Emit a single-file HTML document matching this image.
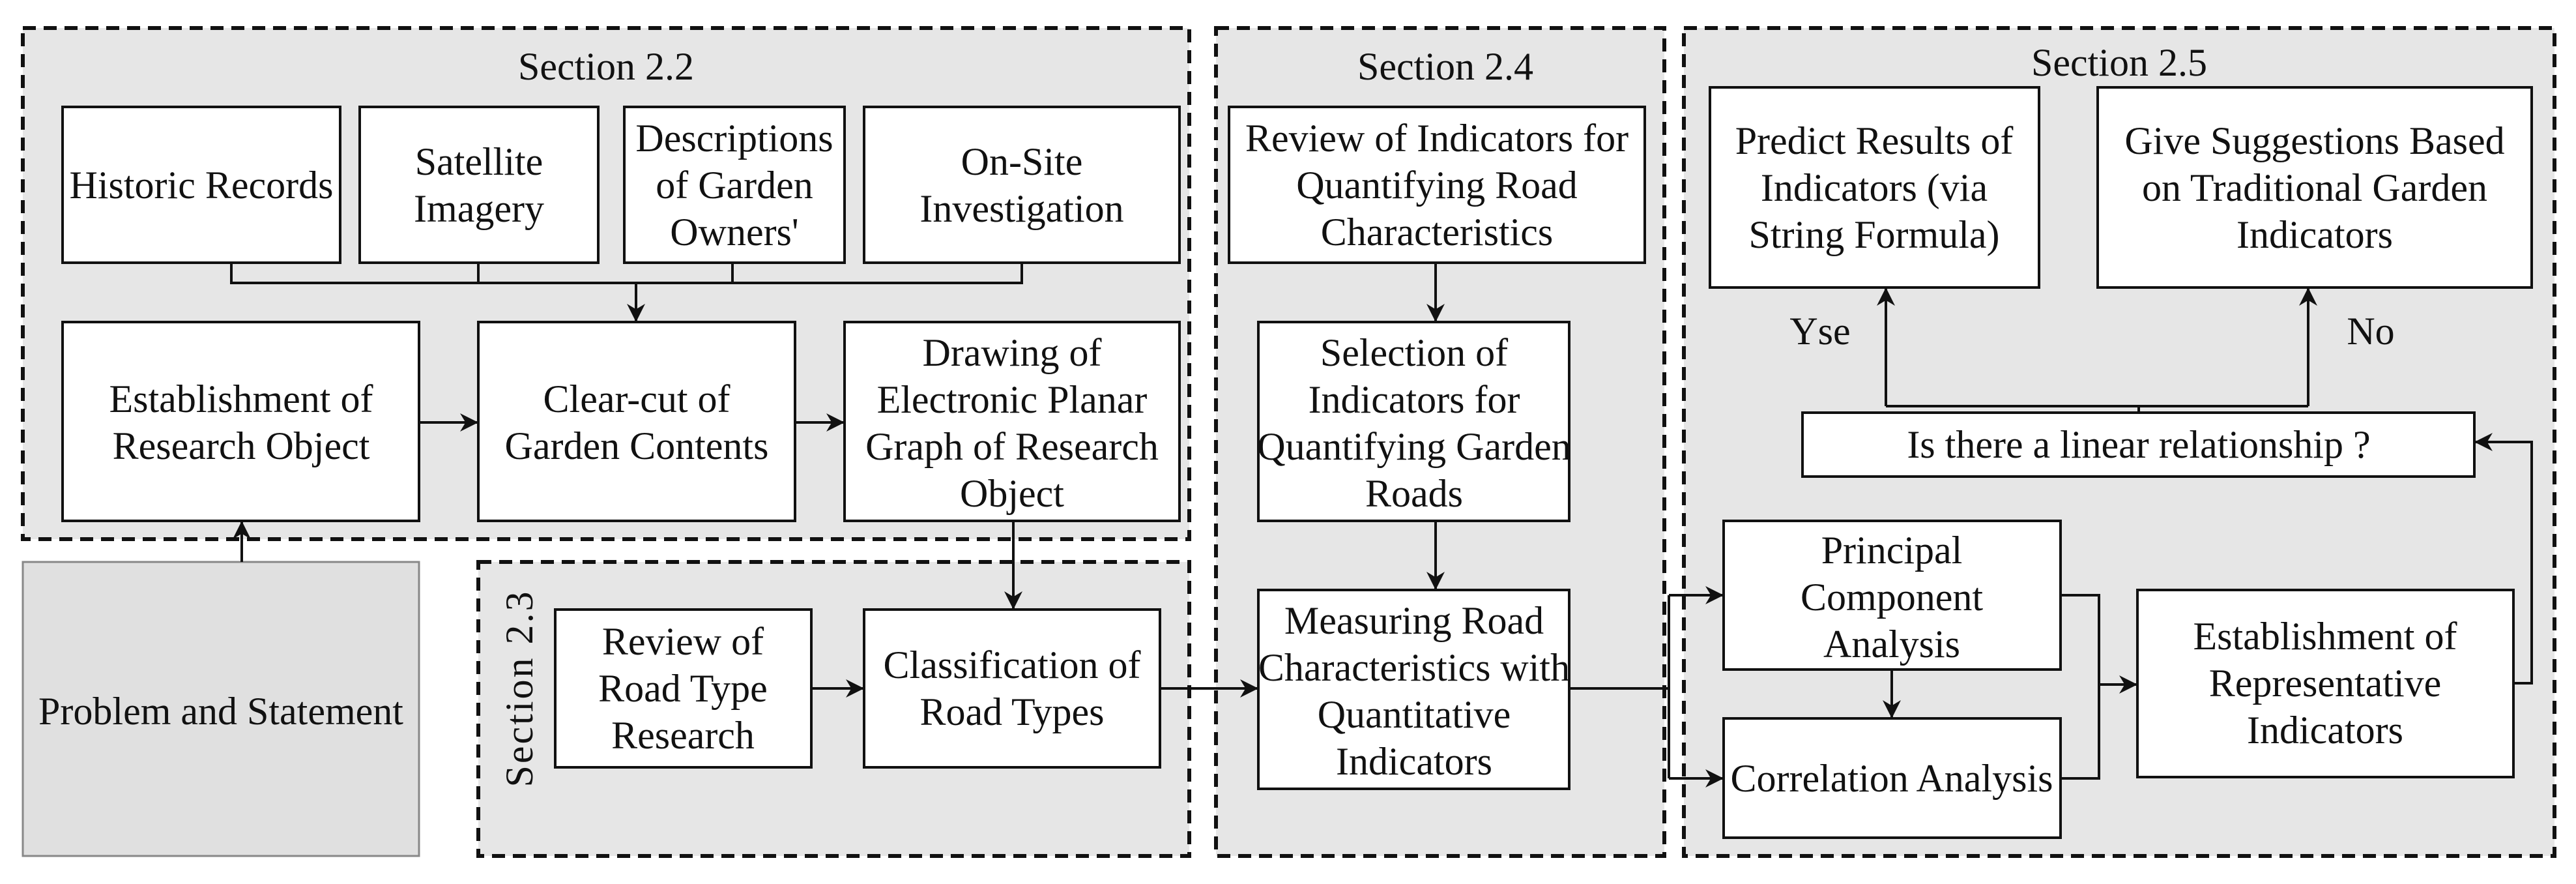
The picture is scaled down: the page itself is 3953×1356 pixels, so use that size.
<!DOCTYPE html>
<html><head><meta charset="utf-8"><style>
html,body{margin:0;padding:0;background:#fff}
svg{display:block}
text{font-family:"Liberation Serif","DejaVu Serif",serif;font-size:60px;fill:#111}
</style></head><body>
<svg width="3953" height="1356" viewBox="0 0 3953 1356" xmlns="http://www.w3.org/2000/svg">
<defs>
<marker id="b" viewBox="0 0 10 10" refX="10" refY="5" markerWidth="28" markerHeight="28" markerUnits="userSpaceOnUse" orient="auto"><path d="M0,0 L10,5 L0,10 L3,5 z" fill="#111"/></marker>
</defs>
<g fill="#e6e6e6" stroke="#111" stroke-width="6" stroke-dasharray="20 12">
<rect x="35" y="43" width="1790" height="784"/>
<rect x="734" y="862" width="1091" height="451"/>
<rect x="1866" y="43" width="688" height="1270"/>
<rect x="2584" y="43" width="1336" height="1270"/>
</g>
<rect x="35" y="862" width="608" height="451" fill="#e0e0e0" stroke="#888" stroke-width="3"/>
<g fill="#fff" stroke="#111" stroke-width="4">
<rect x="96" y="164" width="426" height="239"/>
<rect x="552" y="164" width="366" height="239"/>
<rect x="958" y="164" width="338" height="239"/>
<rect x="1326" y="164" width="484" height="239"/>
<rect x="96" y="494" width="547" height="305"/>
<rect x="734" y="494" width="486" height="305"/>
<rect x="1296" y="494" width="514" height="305"/>
<rect x="852" y="935" width="393" height="242"/>
<rect x="1326" y="935" width="454" height="242"/>
<rect x="1886" y="164" width="638" height="239"/>
<rect x="1931" y="494" width="477" height="305"/>
<rect x="1931" y="905" width="477" height="305"/>
<rect x="2624" y="134" width="505" height="307"/>
<rect x="3219" y="134" width="666" height="307"/>
<rect x="2766" y="633" width="1031" height="98"/>
<rect x="2645" y="799" width="517" height="228"/>
<rect x="2645" y="1102" width="517" height="183"/>
<rect x="3280" y="905" width="577" height="287"/>
</g>
<g fill="none" stroke="#111" stroke-width="4">
<path d="M355,403 V434 H1568 V403 M734,403 V434 M1124,403 V434"/>
<path d="M976,434 V494" marker-end="url(#b)"/>
<path d="M643,648 H734" marker-end="url(#b)"/>
<path d="M1220,648 H1296" marker-end="url(#b)"/>
<path d="M371,862 V799" marker-end="url(#b)"/>
<path d="M1555,799 V935" marker-end="url(#b)"/>
<path d="M1245,1056 H1326" marker-end="url(#b)"/>
<path d="M1780,1056 H1931" marker-end="url(#b)"/>
<path d="M2203,403 V494" marker-end="url(#b)"/>
<path d="M2203,799 V905" marker-end="url(#b)"/>
<path d="M2408,1056 H2561 M2561,913 V1194"/>
<path d="M2561,913 H2645" marker-end="url(#b)"/>
<path d="M2561,1194 H2645" marker-end="url(#b)"/>
<path d="M2903,1027 V1102" marker-end="url(#b)"/>
<path d="M3162,913 H3221 V1194 H3162"/>
<path d="M3221,1050 H3280" marker-end="url(#b)"/>
<path d="M3857,1048 H3885 V678 H3797" marker-end="url(#b)"/>
<path d="M3282,633 V623 M2894,623 H3542"/>
<path d="M2894,623 V441" marker-end="url(#b)"/>
<path d="M3542,623 V441" marker-end="url(#b)"/>
</g>
<g text-anchor="middle">
<text x="930" y="122">Section 2.2</text>
<text x="2218" y="122">Section 2.4</text>
<text x="3252" y="116">Section 2.5</text>
<text transform="translate(797,1056) rotate(-90)" x="0" y="20" letter-spacing="3">Section 2.3</text>

<text x="309" y="304">Historic Records</text>
<text><tspan x="735" y="268">Satellite</tspan><tspan x="735" y="340">Imagery</tspan></text>
<text><tspan x="1127" y="232">Descriptions</tspan><tspan x="1127" y="304">of Garden</tspan><tspan x="1127" y="376">Owners'</tspan></text>
<text><tspan x="1568" y="268">On-Site</tspan><tspan x="1568" y="340">Investigation</tspan></text>
<text><tspan x="370" y="632">Establishment of</tspan><tspan x="370" y="704">Research Object</tspan></text>
<text><tspan x="977" y="632">Clear-cut of</tspan><tspan x="977" y="704">Garden Contents</tspan></text>
<text><tspan x="1553" y="561">Drawing of</tspan><tspan x="1553" y="633">Electronic Planar</tspan><tspan x="1553" y="705">Graph of Research</tspan><tspan x="1553" y="777">Object</tspan></text>
<text x="339" y="1111" fill="#444">Problem and Statement</text>
<text><tspan x="1048" y="1004">Review of</tspan><tspan x="1048" y="1076">Road Type</tspan><tspan x="1048" y="1148">Research</tspan></text>
<text><tspan x="1553" y="1040">Classification of</tspan><tspan x="1553" y="1112">Road Types</tspan></text>
<text><tspan x="2205" y="232">Review of Indicators for</tspan><tspan x="2205" y="304">Quantifying Road</tspan><tspan x="2205" y="376">Characteristics</tspan></text>
<text><tspan x="2170" y="561">Selection of</tspan><tspan x="2170" y="633">Indicators for</tspan><tspan x="2170" y="705">Quantifying Garden</tspan><tspan x="2170" y="777">Roads</tspan></text>
<text><tspan x="2170" y="972">Measuring Road</tspan><tspan x="2170" y="1044">Characteristics with</tspan><tspan x="2170" y="1116">Quantitative</tspan><tspan x="2170" y="1188">Indicators</tspan></text>
<text><tspan x="2876" y="236">Predict Results of</tspan><tspan x="2876" y="308">Indicators (via</tspan><tspan x="2876" y="380">String Formula)</tspan></text>
<text><tspan x="3552" y="236">Give Suggestions Based</tspan><tspan x="3552" y="308">on Traditional Garden</tspan><tspan x="3552" y="380">Indicators</tspan></text>
<text x="2793" y="528">Yse</text>
<text x="3638" y="528">No</text>
<text x="3282" y="702">Is there a linear relationship ?</text>
<text><tspan x="2903" y="864">Principal</tspan><tspan x="2903" y="936">Component</tspan><tspan x="2903" y="1008">Analysis</tspan></text>
<text x="2903" y="1214">Correlation Analysis</text>
<text><tspan x="3568" y="996">Establishment of</tspan><tspan x="3568" y="1068">Representative</tspan><tspan x="3568" y="1140">Indicators</tspan></text>
</g>
</svg>
</body></html>
